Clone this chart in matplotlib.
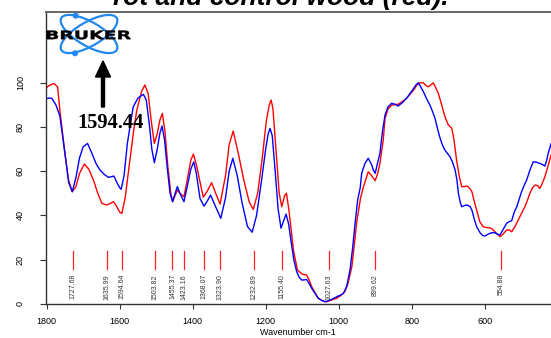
import numpy as np
import matplotlib
matplotlib.use("Agg")
import matplotlib.pyplot as plt
from matplotlib.patches import Ellipse, Circle, PathPatch
from matplotlib.textpath import TextPath
from matplotlib.font_manager import FontProperties
from matplotlib.transforms import Affine2D

# red spectrum (control wood): wavenumber, transmittance
red_wn = [1805, 1795, 1780, 1770, 1764, 1750, 1740, 1730, 1720, 1710, 1697, 1685, 1672, 1660,
          1649, 1636, 1625, 1617, 1608, 1600, 1594, 1585, 1572, 1562, 1553, 1540, 1531, 1522,
          1513, 1505, 1497, 1490, 1483, 1476, 1468, 1460, 1455, 1448, 1442, 1435, 1424, 1415,
          1405, 1398, 1390, 1380, 1371, 1360, 1348, 1337, 1325, 1310, 1300, 1289, 1275, 1260,
          1245, 1234, 1222, 1210, 1198, 1190, 1185, 1180, 1172, 1163, 1156, 1148, 1143, 1136,
          1130, 1124, 1113, 1100, 1088, 1080, 1074, 1056, 1045, 1033, 1020, 1005, 993, 983,
          975, 964, 957, 951, 940, 932, 919, 910, 900, 893, 887, 878, 873, 865, 855, 837, 825,
          814, 795, 785, 777, 768, 760, 754, 747, 741, 735, 727, 718, 709, 700, 690, 684, 677,
          670, 663, 655, 648, 640, 635, 628, 622, 613, 604, 595, 586, 579, 572, 565, 558, 550,
          540, 533, 526, 517, 508, 499, 490, 483, 476, 469, 462, 455, 449, 442, 435, 427, 418]
red_t = [96.9, 98.5, 99.6, 98, 87.6, 68, 56, 50.7, 53, 59, 63.2, 61, 56, 50,
         45.5, 44.7, 45.5, 46.2, 44, 41.5, 40.9, 48, 65, 78, 87.6, 96, 98.9, 95,
         82, 72.5, 77, 83, 86.1, 78, 62, 50, 46.2, 49, 51.5, 50, 48.4, 56,
         65, 67.7, 63, 55.2, 48.2, 51, 54.8, 50, 45.1, 58, 72, 78.1, 68, 56,
         46, 42.7, 50, 65, 83, 90, 92.1, 88, 70, 50, 43.9, 49, 50, 42,
         33, 24.4, 15.3, 13.5, 13.1, 10.5, 7.8, 2.6, 1.5, 1.0, 1.8, 2.6, 4, 5.6,
         9, 16.8, 27, 36.4, 48, 53, 59.7, 58, 55.7, 59, 63.5, 74, 83.8, 88, 89.8, 90.2, 91.5,
         92.9, 96.6, 99, 99.9, 99.9, 98.5, 98.1, 99, 99.9, 98, 95.1, 90, 84.6, 81, 79.3, 74, 65,
         58, 53, 53, 53.3, 52, 50.7, 46, 42.4, 37, 34.9, 34.5, 34.4, 33.8, 32.6, 31.5, 30.4, 31.5,
         33.4, 33.5, 32.6, 35, 37.9, 41, 43.9, 46.8, 50, 52.5, 53.7, 53.5, 52.2, 54.5, 57.5, 62, 67.3]

# blue spectrum (rot wood)
blue_wn = [1805, 1795, 1786, 1775, 1764, 1750, 1740, 1730, 1720, 1710, 1700, 1688, 1676, 1665,
           1654, 1642, 1631, 1622, 1616, 1608, 1600, 1596, 1588, 1579, 1570, 1563, 1550, 1535,
           1527, 1518, 1512, 1505, 1497, 1490, 1484, 1477, 1470, 1462, 1455, 1448, 1442, 1435,
           1424, 1415, 1405, 1397, 1390, 1380, 1369, 1360, 1351, 1340, 1323, 1310, 1300, 1290,
           1278, 1265, 1250, 1237, 1225, 1212, 1200, 1193, 1188, 1182, 1174, 1166, 1158, 1150,
           1144, 1137, 1131, 1123, 1115, 1108, 1101, 1094, 1088, 1080, 1074, 1056, 1045, 1037,
           1020, 1005, 993, 987, 978, 969, 962, 955, 948, 941, 937, 928, 919, 910, 905, 900,
           893, 887, 880, 873, 865, 855, 845, 837, 825, 814, 796, 788, 782, 775, 768, 760, 750,
           743, 736, 729, 722, 715, 709, 702, 695, 688, 681, 676, 672, 667, 663, 655, 648, 640,
           635, 628, 622, 612, 605, 599, 592, 586, 579, 572, 565, 558, 550, 540, 533, 526, 519,
           512, 505, 499, 492, 485, 476, 467, 458, 449, 442, 435, 430, 426, 418]
blue_t = [92.4, 93, 92.9, 90, 85, 68, 55, 50.7, 57, 66, 71, 72.5, 68, 63.5,
          60.5, 58.5, 57.2, 57.5, 57.8, 55, 52.5, 51.8, 58, 72.5, 82, 89, 93, 94.7,
          92, 80, 70, 63.8, 70, 77, 80.4, 74, 62, 50, 46.2, 50, 53, 50,
          46.2, 53, 61, 64.2, 59, 47.7, 44.2, 46.5, 49.2, 45, 38.7, 48, 60, 65.8,
          58, 46, 35, 32.4, 40, 55, 70, 77, 79.3, 76, 60, 43, 34.2, 38,
          40.6, 36, 28.9, 20, 14.6, 12, 10.8, 10.9, 11.1, 9, 7.1, 2.6, 1.5, 1.0,
          2.0, 3.3, 4.2, 4.8, 8, 15.3, 25, 36.4, 47, 52.5, 59, 63.5, 65.8, 63, 60.5, 59,
          64, 68, 78, 85.3, 89, 90.6, 90.2, 89.4, 91, 92.9, 97, 99, 99.9, 98, 95.9, 93, 89.8,
          87, 83.8, 79, 74.8, 71.5, 69.5, 68, 66.5, 64, 60.5, 56, 50, 46, 43.9, 44.5, 44.7, 44,
          42.4, 38, 34.9, 32, 30.9, 30.7, 31.4, 31.9, 32.2, 32.2, 31.5, 31.2, 33.5, 36.4, 37.2, 37.6, 41.5,
          43.9, 47.5, 50.7, 53.5, 56, 60.5, 64.2, 64, 63.5, 63, 62.3, 65, 68, 72.5]

peaks = [1727.68, 1635.99, 1594.64, 1503.82, 1455.37, 1423.16, 1368.07,
         1323.90, 1232.89, 1155.40, 1027.63, 899.62, 554.88]
xticks = [1800, 1600, 1400, 1200, 1000, 800, 600]
yticks = [0, 20, 40, 60, 80, 100]

W, H = 551, 338
fig = plt.figure(figsize=(W / 100, H / 100), dpi=100)
ax = fig.add_axes([45.7 / W, 1 - 304 / H, 1 - 45.7 / W, (304 - 11.7) / H])

ax.plot(red_wn, red_t, color='#ff0000', lw=1.0)
ax.plot(blue_wn, blue_t, color='#0000ff', lw=1.0)

for p in peaks:
    ax.plot([p, p], [15.7, 24], color='#ff2020', lw=0.9)
    ax.text(p, 13.5, '%.2f' % p, rotation=90, ha='center', va='top',
            fontsize=5, color='#333333', family='Liberation Sans')

ax.set_xlim(1802.7, 418.3)
ax.set_ylim(0, 132)
ax.set_xticks(xticks)
ax.set_yticks(yticks)
ax.set_xticklabels([str(t) for t in xticks], fontsize=6.5, family='Liberation Sans')
ax.set_yticklabels([str(t) for t in yticks], fontsize=6.5, family='Liberation Sans',
                   rotation=90, va='center')
ax.tick_params(axis='x', length=3.6, width=0.8, pad=5.5, color='#333333')
ax.tick_params(axis='y', length=4, width=0.8, pad=11, color='#333333')
ax.set_xlabel('Wavenumber cm-1', fontsize=6.5, family='Liberation Sans', labelpad=2)

for s in ['left', 'bottom']:
    ax.spines[s].set_color('#333333')
    ax.spines[s].set_linewidth(1.0)
ax.spines['top'].set_color('#666666')
ax.spines['top'].set_linewidth(1.4)
ax.spines['right'].set_visible(False)

# title, cut off at the top of the image (as in the source)
fig.text(0.51, 1 - 4.5 / H, 'rot and control wood (red).', ha='center', va='baseline',
         fontsize=19, fontweight='bold', fontstyle='italic', family='Liberation Sans')

# overlay in pixel units for the logo and the arrow
ov = fig.add_axes([0, 0, 1, 1])
ov.set_xlim(0, W)
ov.set_ylim(0, H)
ov.axis('off')
ov.patch.set_alpha(0)

logo_blue = '#2288ee'
for ang in (30, -30):
    ov.add_patch(Ellipse((89, H - 34), 64, 24, angle=ang, fill=False, ec=logo_blue, lw=1.6))
for cx, cy in [(75.7, 15.7), (75, 53.3)]:
    ov.add_patch(Circle((cx, H - cy), 2.3, color=logo_blue))

tp = TextPath((0, 0), 'BRUKER', size=10, prop=FontProperties(family='DejaVu Sans', weight='bold'))
bb = tp.get_extents()
tr = Affine2D().translate(-bb.x0, -bb.y0).scale(84 / bb.width, 8.7 / bb.height).translate(46.7, H - 39.3)
ov.add_patch(PathPatch(tr.transform_path(tp), color='black', lw=0.3, zorder=5))

ov.arrow(103, H - 107, 0, 46, width=3, head_width=15, head_length=16,
         length_includes_head=True, color='black')
ov.text(110.4, H - 122.5, '1594.44', ha='center', va='center', fontsize=14.8,
        fontweight='bold', family='Liberation Serif')

fig.savefig('out.png', dpi=100)
